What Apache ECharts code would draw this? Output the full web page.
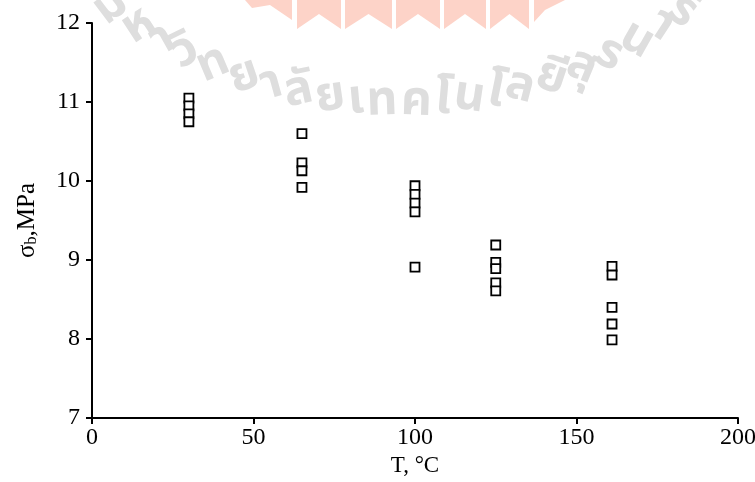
<!DOCTYPE html>
<html><head><meta charset="utf-8">
<script src="https://cdn.jsdelivr.net/npm/echarts@6/dist/echarts.min.js"></script>
<style>html,body{margin:0;padding:0;background:#fff}#c{width:755px;height:482px}</style>
</head><body><div id="c"></div>
<script>
// ---- data ----
const temperatures = [30, 65, 100, 125, 161];
const strengthAt30 = [11.05, 10.95, 10.85, 10.75];
const strengthAt65 = [10.6, 10.23, 10.13, 9.92];
const strengthAt100 = [9.94, 9.83, 9.72, 9.61, 8.91];
const strengthAt125 = [9.19, 8.97, 8.89, 8.71, 8.61];
const strengthAt161 = [8.92, 8.81, 8.40, 8.19, 7.99];
const xTicks = [0, 50, 100, 150, 200];
const yTicks = [7, 8, 9, 10, 11, 12];
const watermarkText = 'มหาวิทยาลัยเทคโนโลยีสุรนารี';

const groups = [strengthAt30, strengthAt65, strengthAt100, strengthAt125, strengthAt161];
const points = [];
groups.forEach((g, i) => g.forEach(v => points.push([temperatures[i], v])));

const chart = echarts.init(document.getElementById('c'), null, {renderer: 'canvas'});
const serif = '"Liberation Serif", "Times New Roman", serif';

// watermark clusters placed along an arc
const wmFont = 'bold 48px "Noto Sans Thai", "Noto Sans", sans-serif';
const ctx = document.createElement('canvas').getContext('2d');
ctx.font = wmFont;
const clusters = watermarkText.match(/[\u0E00-\u0E7F](?:[\u0E31\u0E34-\u0E3A\u0E47-\u0E4E])*/g) || [];
const cx = 400, cy = -372, R = 477;
const widths = clusters.map(c => ctx.measureText(c).width);
const centres = [];
let acc = 0;
widths.forEach(w => { centres.push(acc + w / 2); acc += w; });
const a1 = -33 * Math.PI / 180, a2 = 33 * Math.PI / 180;
const k = (a2 - a1) / (centres[20] - centres[1]);
const wm = [];
clusters.forEach((c, i) => {
  const a = a1 + (centres[i] - centres[1]) * k;
  const x = cx + R * Math.sin(a);
  const y = cy + R * Math.cos(a);
  wm.push({
    type: 'text', x: x, y: y, rotation: -a, z: 0, silent: true,
    style: {text: c, font: wmFont, fill: '#dedede', align: 'center', verticalAlign: 'middle'}
  });
});
// pink logo fragment at the top
const logo = [];
const panelEdges = [295, 343, 394, 442, 488, 531];
for (let i = 0; i < panelEdges.length - 1; i++) {
  const x0 = panelEdges[i] + 2, x1 = panelEdges[i + 1] - 2, xm = (x0 + x1) / 2;
  logo.push({type: 'polygon', silent: true, z: 0,
    shape: {points: [[x0, 0], [x1, 0], [x1, 29], [xm, 14], [x0, 29]]},
    style: {fill: '#fdd3c8'}});
}
logo.push({type: 'polygon', silent: true, z: 0, shape: {points: [[245, 0], [292, 0], [292, 20], [270, 5], [252, 8]]}, style: {fill: '#fdd3c8'}});
logo.push({type: 'polygon', silent: true, z: 0, shape: {points: [[534, 0], [565, 0], [545, 10], [534, 22]]}, style: {fill: '#fdd3c8'}});

chart.setOption({
  animation: false,
  backgroundColor: '#fff',
  grid: {left: 92, right: 17, top: 23, bottom: 64, containLabel: false, outerBoundsMode: 'none'},
  graphic: logo.concat(wm),
  xAxis: {
    type: 'value', min: 0, max: 200, interval: 50,
    name: 'T, °C', nameLocation: 'middle', nameGap: 35,
    nameTextStyle: {fontFamily: serif, fontSize: 23, color: '#000'},
    axisLine: {show: true, onZero: false, lineStyle: {color: '#000', width: 2}},
    axisTick: {show: true, inside: false, length: 6, lineStyle: {color: '#000', width: 2}},
    axisLabel: {fontFamily: serif, fontSize: 24, color: '#000', margin: 8,
      formatter: v => xTicks.includes(v) ? String(v) : ''},
    splitLine: {show: false}
  },
  yAxis: {
    type: 'value', min: 7, max: 12, interval: 1,
    name: '{s|σ}{b|b}{s|,MPa}', nameLocation: 'middle', nameGap: 52, nameRotate: 90,
    nameTextStyle: {rich: {
      s: {fontFamily: serif, fontSize: 25, color: '#000'},
      b: {fontFamily: serif, fontSize: 16, color: '#000', verticalAlign: 'bottom', padding: [10, 0, 0, 0]}
    }},
    axisLine: {show: true, onZero: false, lineStyle: {color: '#000', width: 2}},
    axisTick: {show: true, inside: false, length: 6, lineStyle: {color: '#000', width: 2}},
    axisLabel: {fontFamily: serif, fontSize: 24, color: '#000', margin: 12,
      formatter: v => yTicks.includes(v) ? String(v) : ''},
    splitLine: {show: false}
  },
  series: [{
    type: 'scatter', data: points, symbol: 'rect', symbolSize: 9, z: 5,
    itemStyle: {color: '#fff', borderColor: '#000', borderWidth: 1.8, opacity: 1}
  }]
});
</script></body></html>
